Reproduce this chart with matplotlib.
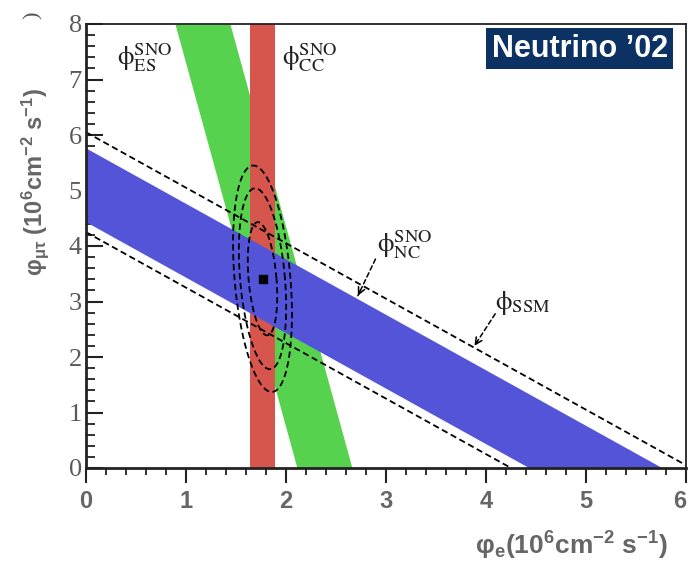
import numpy as np
import matplotlib.pyplot as plt
from matplotlib.ticker import MultipleLocator

plt.rcParams['mathtext.fontset'] = 'custom'
plt.rcParams['mathtext.rm'] = 'Liberation Sans:bold'
plt.rcParams['mathtext.it'] = 'Liberation Sans:bold'
plt.rcParams['mathtext.bf'] = 'Liberation Sans:bold'
plt.rcParams['xtick.direction'] = 'out'
plt.rcParams['ytick.direction'] = 'in'

# SNO fluxes in 10^6 cm^-2 s^-1
cc_flux, cc_err = 1.765, 0.125          # charged current: phi_e only
es_flux, es_err = 2.385, 0.275          # elastic scattering: phi_e + 0.1525 phi_mutau
es_weight = 0.1525
nc_flux, nc_err = 5.10, 0.665           # neutral current: phi_e + phi_mutau
ssm_flux, ssm_err = 5.15, 0.90          # standard solar model band

best_fit = (1.765, 3.41)
# 68 / 95 / 99 % contours: half widths in phi_e, half heights in phi_mutau
contour_dx = [0.14, 0.225, 0.28]
contour_dy = [1.02, 1.63, 2.04]
contour_shear = 0.045

xticks = [0, 1, 2, 3, 4, 5, 6]
yticks = [0, 1, 2, 3, 4, 5, 6, 7, 8]

green = '#57d24e'
red = '#d6554d'
blue = '#5454d8'
navy = '#0b3263'
grey = '#666666'

fig = plt.figure(figsize=(6.88, 5.62), dpi=100)
ax = fig.add_axes([86/688, 1 - 468/562, 600/688, 444/562])
ax.set_xlim(0, 6)
ax.set_ylim(0, 8)

yy = np.array([0, 8])
ax.fill_betweenx(yy, es_flux - es_err - es_weight*yy, es_flux + es_err - es_weight*yy,
                 color=green, lw=0, zorder=1)
ax.axvspan(cc_flux - cc_err, cc_flux + cc_err, color=red, lw=0, zorder=2)

xx = np.array([0, 6])
ax.fill_between(xx, nc_flux - nc_err - xx, nc_flux + nc_err - xx, color=blue, lw=0, zorder=3)
for lvl in (ssm_flux - ssm_err, ssm_flux + ssm_err):
    ax.plot(xx, lvl - xx, color='k', lw=1.3, dashes=(3.5, 2), zorder=4)

t = np.linspace(0, 2*np.pi, 300)
for dx, dy in zip(contour_dx, contour_dy):
    ex = best_fit[0] + dx*np.cos(t) - contour_shear*dy*np.sin(t)
    ey = best_fit[1] + dy*np.sin(t)
    ax.plot(ex, ey, color='k', lw=1.3, dashes=(3.5, 2), zorder=5)
ax.plot(*best_fit, 's', color='k', ms=5.5, zorder=6)

# band labels
lab = dict(fontsize=19, color='#222222', ha='center', va='center', math_fontfamily='stix', zorder=7)
ax.text(0.59, 7.39, r'$\mathrm{ϕ}^{\rm SNO}_{\rm ES}$', **lab)
ax.text(2.24, 7.39, r'$\mathrm{ϕ}^{\rm SNO}_{\rm CC}$', **lab)
ax.text(3.19, 4.02, r'$\mathrm{ϕ}^{\rm SNO}_{\rm NC}$', **lab)
ax.text(4.37, 2.97, r'$\mathrm{ϕ}_{\rm SSM}$', **lab)

def pointer(tail, head):
    ax.annotate('', xy=head, xytext=tail,
                arrowprops=dict(arrowstyle='-', lw=1.1, ls=(0, (3, 2)), color='k'), zorder=7)
    back = (head[0] + 0.25*(tail[0] - head[0]), head[1] + 0.25*(tail[1] - head[1]))
    ax.annotate('', xy=head, xytext=back,
                arrowprops=dict(arrowstyle='->', lw=1.1, color='k', mutation_scale=12), zorder=7)

pointer((2.907, 3.81), (2.707, 3.06))
pointer((4.107, 2.82), (3.87, 2.16))

# axes styling
ax.set_xticks(xticks)
ax.set_xticklabels([str(v) for v in xticks], fontfamily='Liberation Sans',
                   fontweight='bold', fontsize=17)
ax.get_xticklabels()[-1].set_ha('right')   # keep the last label inside the canvas
ax.set_yticks(yticks)
ax.set_yticklabels([str(v) for v in yticks], fontfamily='Liberation Serif', fontsize=19)
ax.xaxis.set_minor_locator(MultipleLocator(0.2))
ax.yaxis.set_minor_locator(MultipleLocator(0.2))
ax.tick_params(axis='x', which='major', length=11, width=1.5, pad=5,
               top=False, color='#222222', labelcolor=grey)
ax.tick_params(axis='x', which='minor', length=5, width=1.3, top=False, color='#222222')
ax.tick_params(axis='y', which='major', length=12.5, width=1.5, pad=3,
               right=False, color='#222222', labelcolor='#5a5a5a')
ax.tick_params(axis='y', which='minor', length=6.5, width=1.3, right=False, color='#222222')
for side in ('left', 'bottom'):
    ax.spines[side].set_linewidth(2.0)
for side in ('top', 'right'):
    ax.spines[side].set_linewidth(1.3)
for sp in ax.spines.values():
    sp.set_color('#222222')
    sp.set_zorder(8)

fig.text(668/688, 0.029, r'φ$_{\rm e}$(10$^{\rm 6}$cm$^{\rm {-}2}$ s$^{\rm {-}1}$)',
         ha='right', va='center', fontsize=19, color=grey, fontweight='bold',
         fontfamily='Liberation Sans')
fig.text(0.051, 0.676, r'φ$_{\mu\tau}$ (10$^{\rm 6}$cm$^{\rm {-}2}$ s$^{\rm {-}1}$)',
         ha='center', va='center', rotation=90, fontsize=17, color=grey, fontweight='bold',
         fontfamily='Liberation Sans')
fig.text(0.048, 0.973, ')', ha='center', va='center', rotation=90, fontsize=16,
         color='#555555', fontfamily='Liberation Serif')

fig.text(0.8426, 0.9134, 'Neutrino \u201902', ha='center', va='center', fontsize=22,
         color='white', fontweight='bold', fontfamily='Liberation Sans',
         bbox=dict(boxstyle='square,pad=0.17', fc=navy, ec='none'))

fig.savefig('out.png', dpi=100)
